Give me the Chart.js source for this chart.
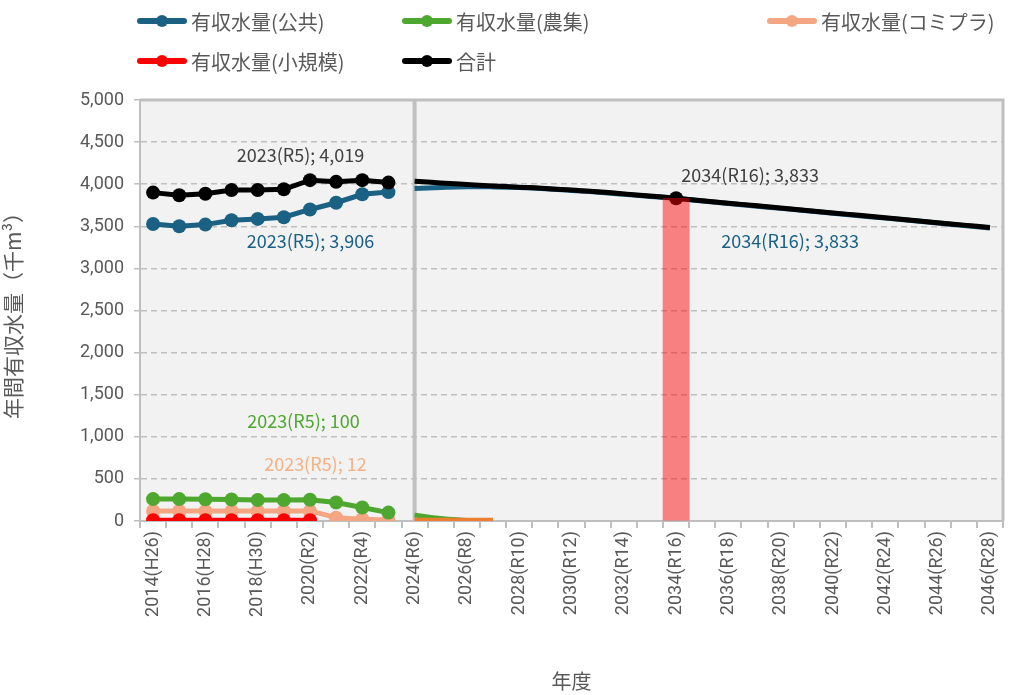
<!DOCTYPE html>
<html>
<head>
<meta charset="utf-8">
<script src="https://cdn.jsdelivr.net/npm/chart.js@4"></script>
<style>
  body { margin: 0; background: #fff; font-family: "Noto Sans CJK JP", sans-serif; }
  #wrap { position: relative; width: 1026px; height: 695px; }
  #legend { position: absolute; left: 137px; top: 7px; display: grid; grid-template-columns: 265px 365px auto; row-gap: 12px; }
  .item { display: flex; align-items: center; font-size: 20px; color: #595959; height: 28px; }
  .mark { position: relative; width: 50px; height: 6px; border-radius: 3px; margin-right: 4px; }
  .mark span { position: absolute; left: 19px; top: -3px; width: 12px; height: 12px; border-radius: 6px; }
</style>
</head>
<body>
<div id="wrap">
  <canvas id="chart" width="1026" height="695"></canvas>
  <div id="legend"></div>
</div>
<script>
const years = [];
for (let y = 2014; y <= 2046; y++) years.push(y);
const eraLabels = ['H26', 'H27', 'H28', 'H29', 'H30', 'R1', 'R2', 'R3', 'R4', 'R5', 'R6', 'R7', 'R8', 'R9', 'R10', 'R11', 'R12', 'R13', 'R14', 'R15', 'R16', 'R17', 'R18', 'R19', 'R20', 'R21', 'R22', 'R23', 'R24', 'R25', 'R26', 'R27', 'R28'];
const categories = years.map((y, i) => y + '(' + eraLabels[i] + ')');

// actual values 2014-2023 (thousand m3)
const publicActual = [3528, 3500, 3520, 3572, 3588, 3608, 3700, 3780, 3880, 3906];
const farmActual = [260, 260, 258, 255, 250, 248, 252, 220, 160, 100];
const komiActual = [120, 120, 120, 120, 120, 120, 120, 40, 20, 12];
const smallActual = [10, 10, 10, 10, 10, 10, 10];
const totalActual = [3900, 3868, 3887, 3932, 3932, 3940, 4048, 4028, 4048, 4019];

// forecast values 2024-2046
const publicForecast = [3950, 3962, 3970, 3968, 3960, 3945, 3925, 3905, 3880, 3855, 3833, 3800, 3771, 3742, 3713, 3684, 3655, 3626, 3597, 3568, 3539, 3510, 3481];
const farmForecast = [70, 30, 5];
const komiForecast = [10, 10, 10, 10];
const totalForecast = [4035, 4015, 3995, 3980, 3965, 3950, 3930, 3910, 3885, 3860, 3833, 3804, 3775, 3746, 3717, 3688, 3659, 3630, 3601, 3572, 3543, 3514, 3485];

const highlightYear = 2034;
const forecastStart = 2024;

function actual(arr) {
  return years.map((y, i) => i < arr.length ? arr[i] : null);
}
function forecast(arr) {
  const s = years.indexOf(forecastStart);
  return years.map((y, i) => (i >= s && i - s < arr.length) ? arr[i - s] : null);
}
const hlIdx = years.indexOf(highlightYear);
const highlightBar = years.map((y, i) => i === hlIdx ? totalForecast[hlIdx - years.indexOf(forecastStart)] : null);

const colors = {
  public: '#1b6184',
  farm: '#4ea72e',
  komi: '#f4a582',
  komiF: '#ed7d31',
  small: '#ff0000',
  total: '#000000'
};

const legendItems = [
  ['有収水量(公共)', colors.public],
  ['有収水量(農集)', colors.farm],
  ['有収水量(コミプラ)', colors.komi],
  ['有収水量(小規模)', colors.small],
  ['合計', colors.total]
];
const legendDiv = document.getElementById('legend');
legendItems.forEach(([name, c]) => {
  const el = document.createElement('div');
  el.className = 'item';
  el.innerHTML = `<div class="mark" style="background:${c}"><span style="background:${c}"></span></div>${name}`;
  legendDiv.appendChild(el);
});

function lineSet(data, color, order, markers) {
  return {
    type: 'line', data: data, borderColor: color, backgroundColor: color,
    borderWidth: 5, pointRadius: markers ? 7 : 0, pointHoverRadius: markers ? 7 : 0,
    pointBackgroundColor: color, pointBorderWidth: 0, order: order,
    tension: markers ? 0 : 0.4, spanGaps: false
  };
}

const totalF = lineSet(forecast(totalForecast), colors.total, 1, false);
totalF.pointRadius = years.map((y, i) => i === hlIdx ? 7 : 0);

const datasets = [
  { type: 'bar', data: highlightBar, backgroundColor: 'rgba(255,0,0,0.47)', barPercentage: 1, categoryPercentage: 1, order: 0 },
  lineSet(actual(totalActual), colors.total, 1, true),
  totalF,
  lineSet(actual(publicActual), colors.public, 2, true),
  lineSet(forecast(publicForecast), colors.public, 2, false),
  lineSet(actual(farmActual), colors.farm, 4, true),
  lineSet(forecast(farmForecast), colors.farm, 4, false),
  lineSet(actual(komiActual), colors.komi, 5, true),
  lineSet(forecast(komiForecast), colors.komiF, 3, false),
  lineSet(actual(smallActual), colors.small, 3, true)
];

// value labels: [dataset index, category index, color, dx, dy]
const valueLabels = [
  [1, years.indexOf(2023), '#404040', -88, -27],
  [3, years.indexOf(2023), colors.public, -78, 49],
  [5, years.indexOf(2023), colors.farm, -85, -91],
  [7, years.indexOf(2023), '#f4b183', -73, -56],
  [2, hlIdx, '#404040', 74, -23],
  [4, hlIdx, colors.public, 114, 43]
];

const areaPlugin = {
  id: 'area',
  beforeDraw(chart) {
    const { ctx, chartArea: a } = chart;
    ctx.save();
    ctx.fillStyle = '#f2f2f2';
    ctx.fillRect(a.left, a.top, a.right - a.left, a.bottom - a.top);
    ctx.restore();
  },
  beforeDatasetsDraw(chart) {
    const { ctx, chartArea: a, scales } = chart;
    const x = scales.x.getPixelForValue(years.indexOf(forecastStart));
    ctx.save();
    ctx.strokeStyle = '#bfbfbf';
    ctx.lineWidth = 4;
    ctx.beginPath();
    ctx.moveTo(x, a.top);
    ctx.lineTo(x, a.bottom);
    ctx.stroke();
    ctx.lineWidth = 3;
    ctx.beginPath();
    ctx.moveTo(a.left, a.top);
    ctx.lineTo(a.right, a.top);
    ctx.lineTo(a.right, a.bottom);
    ctx.stroke();
    ctx.restore();
  },
  afterDatasetsDraw(chart) {
    const { ctx, scales } = chart;
    ctx.save();
    ctx.font = '18px "Noto Sans CJK JP", Roboto, sans-serif';
    ctx.textAlign = 'center';
    ctx.textBaseline = 'middle';
    valueLabels.forEach(([ds, i, color, dx, dy]) => {
      const v = chart.data.datasets[ds].data[i];
      const x = scales.x.getPixelForValue(i);
      const y = scales.y.getPixelForValue(v);
      ctx.fillStyle = color;
      ctx.fillText(years[i] + '(' + eraLabels[i] + '); ' + v.toLocaleString('en-US'), x + dx, y + dy);
    });
    ctx.restore();
  }
};

new Chart(document.getElementById('chart'), {
  data: { labels: categories, datasets: datasets },
  plugins: [areaPlugin],
  options: {
    responsive: false,
    animation: false,
    layout: { padding: { top: 100, right: 23, left: 0, bottom: 0 } },
    plugins: { legend: { display: false }, tooltip: { enabled: false } },
    scales: {
      x: {
        offset: true,
        grid: { offset: true, drawOnChartArea: false, color: '#bfbfbf', tickLength: 7, lineWidth: 2 },
        border: { color: '#bfbfbf', width: 2 },
        ticks: {
          autoSkip: false, minRotation: 90, maxRotation: 90, color: '#595959',
          font: { size: 18, family: 'Roboto, "Noto Sans CJK JP", sans-serif' },
          callback: (v, i) => i % 2 === 0 ? categories[i] : ''
        },
        title: { display: true, text: '年度', color: '#595959', font: { size: 20, family: '"Noto Sans CJK JP", sans-serif' }, padding: { top: 0, bottom: 2 } },
        afterFit: s => { s.height = 174; }
      },
      y: {
        min: 0, max: 5000,
        ticks: {
          stepSize: 500, color: '#595959', padding: 10,
          font: { size: 18, family: 'Roboto, "Noto Sans CJK JP", sans-serif' },
          callback: v => v.toLocaleString('en-US')
        },
        grid: { color: '#bfbfbf', tickLength: 6, lineWidth: 1.5, tickBorderDash: [], tickColor: '#bfbfbf' },
        border: { color: '#bfbfbf', width: 2, dash: [6, 4] },
        title: { display: true, text: '年間有収水量（千m³）', color: '#595959', font: { size: 21, family: '"Noto Sans CJK JP", sans-serif' }, padding: { top: 0, bottom: 6 } },
        afterFit: s => { s.width = 140; }
      }
    }
  }
});
</script>
</body>
</html>
